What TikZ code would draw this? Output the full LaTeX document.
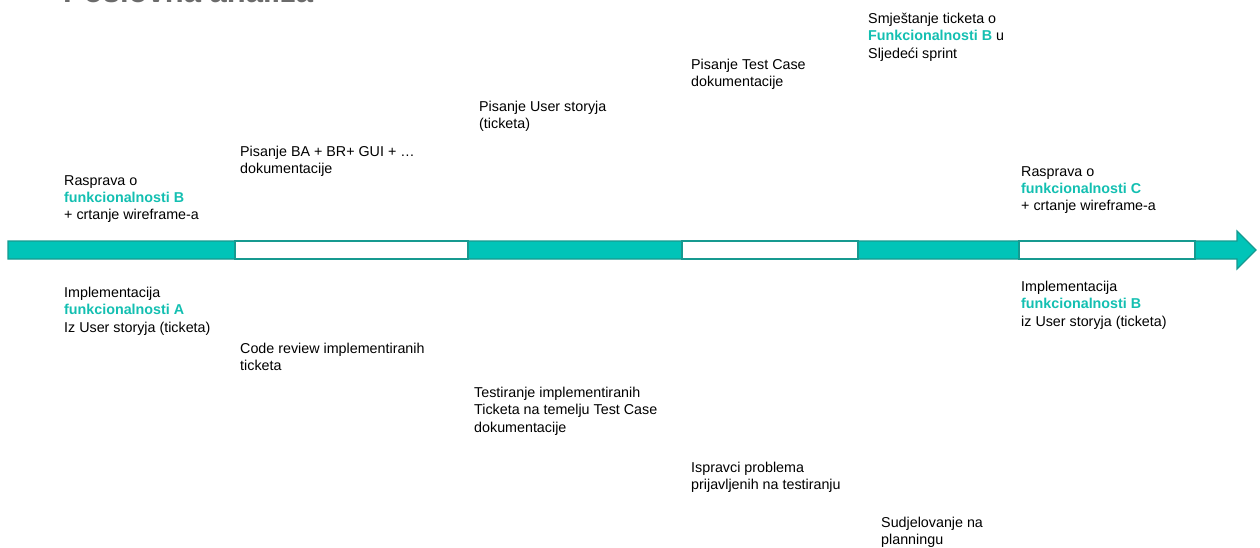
\documentclass[tikz,border=0pt]{standalone}
\usepackage{fontspec}
\setmainfont{Liberation Sans}
\definecolor{tealfill}{HTML}{00C4B8}
\definecolor{tealline}{HTML}{169A90}
\definecolor{tealtxt}{HTML}{13BFB1}
\definecolor{titlegray}{HTML}{6B6B6B}
\newcommand{\hl}[1]{{\bfseries\color{tealtxt}#1}}
\tikzset{
  lbl/.style={anchor=north west, inner sep=0pt, align=left, text=black,
    font=\fontsize{14.3}{17.3}\selectfont},
  barseg/.style={draw=tealline, line width=1.2pt},
}
\begin{document}
\begin{tikzpicture}[x=1pt,y=-1pt]
\useasboundingbox (0,0) rectangle (1260,548);
\begin{scope}
\clip (0,0) rectangle (1260,548);
\node[anchor=base west, inner sep=0pt, text=titlegray, font=\fontsize{31}{36}\selectfont\bfseries] (title) at (63,2.5) {Poslovna analiza};
\end{scope}
% timeline arrow
\draw[barseg, fill=tealfill, line join=miter] (8,241) -- (1237,241) -- (1237,231) -- (1256,250) -- (1237,269) -- (1237,259) -- (8,259) -- cycle;
\draw[barseg, fill=white] (235,241) rectangle (468,259);
\draw[barseg, fill=white] (682,241) rectangle (858,259);
\draw[barseg, fill=white] (1019,241) rectangle (1195,259);
% upper labels
\node[lbl] (raspB) at (64,175) {Rasprava o\\\hl{funkcionalnosti B}\\+ crtanje wireframe-a};
\node[lbl] (pisBA) at (240,146) {Pisanje BA + BR+ GUI + …\\dokumentacije};
\node[lbl] (pisUS) at (479,101) {Pisanje User storyja\\(ticketa)};
\node[lbl] (pisTC) at (691,59) {Pisanje Test Case\\dokumentacije};
\node[lbl] (smj) at (868,13) {Smještanje ticketa o\\\hl{Funkcionalnosti B} u\\Sljedeći sprint};
\node[lbl] (raspC) at (1021,166) {Rasprava o\\\hl{funkcionalnosti C}\\+ crtanje wireframe-a};
% lower labels
\node[lbl] (implA) at (64,287) {Implementacija\\\hl{funkcionalnosti A}\\Iz User storyja (ticketa)};
\node[lbl] (code) at (240,343) {Code review implementiranih\\ticketa};
\node[lbl] (test) at (474,387) {Testiranje implementiranih\\Ticketa na temelju Test Case\\dokumentacije};
\node[lbl] (isp) at (691,462) {Ispravci problema\\prijavljenih na testiranju};
\node[lbl] (sud) at (881,517) {Sudjelovanje na\\planningu};
\node[lbl] (implB) at (1021,281) {Implementacija\\\hl{funkcionalnosti B}\\iz User storyja (ticketa)};
\end{tikzpicture}
\end{document}
